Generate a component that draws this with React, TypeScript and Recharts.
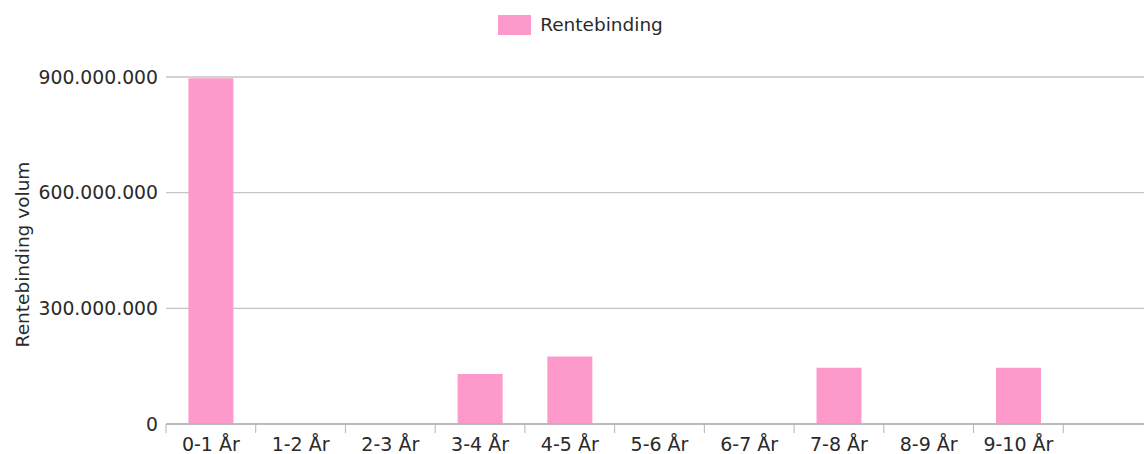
import React from 'react';
import { BarChart, Bar, XAxis, YAxis, CartesianGrid, Legend } from 'recharts';

const categories = ['0-1 År', '1-2 År', '2-3 År', '3-4 År', '4-5 År', '5-6 År', '6-7 År', '7-8 År', '8-9 År', '9-10 År', ''];
const volumes = [897000000, 0, 0, 130000000, 175000000, 0, 0, 146000000, 0, 146000000, 0];
const yTicks = [0, 300000000, 600000000, 900000000];
const seriesName = 'Rentebinding';
const yLabel = 'Rentebinding volum';

const data = categories.map((c, i) => ({ name: c, value: volumes[i] }));

const FONT = '"DejaVu Sans", sans-serif';
const PINK = '#fd99cb';
const TEXT = '#2a2a2a';
const AXIS = '#b4b4b4';

const fmt = (v: number) => String(Math.round(v)).replace(/\B(?=(\d{3})+(?!\d))/g, '.');

const XTick = (props: any) => {
  const { x, y, payload } = props;
  const off = payload && payload.offset ? payload.offset : 0;
  return (
    <g>
      <line x1={x - off} x2={x - off} y1={y} y2={y + 9} stroke={AXIS} strokeWidth={1} />
      <text x={x} y={y + 27} textAnchor="middle" fontSize={19} fontFamily={FONT} fill={TEXT}>
        {payload.value}
      </text>
    </g>
  );
};

const LegendContent = () => (
  <div style={{ height: 77, display: 'flex', justifyContent: 'center', alignItems: 'flex-start', paddingTop: 14, boxSizing: 'border-box' }}>
    <div style={{ display: 'flex', alignItems: 'center', marginLeft: 8 }}>
      <div style={{ width: 33, height: 20, background: PINK, marginRight: 9 }} />
      <span style={{ fontFamily: FONT, fontSize: 18.5, color: TEXT }}>{seriesName}</span>
    </div>
  </div>
);

export default function App() {
  return (
    <div style={{ position: 'absolute', left: 0, top: 0, width: 1160, height: 454, background: '#fff' }}>
      <BarChart width={1160} height={454} data={data} margin={{ top: 0, right: 7, bottom: 0, left: 0 }} barCategoryGap="25%">
        <Legend verticalAlign="top" content={<LegendContent />} wrapperStyle={{ top: 0 }} />
        <CartesianGrid horizontal={true} vertical={false} stroke="#c4c4c4" strokeWidth={1.3} />
        <XAxis
          dataKey="name"
          height={30}
          axisLine={{ stroke: AXIS, strokeWidth: 1.3 }}
          tickLine={false}
          tickSize={0}
          tickMargin={0}
          tick={<XTick />}
          interval={0}
        />
        <YAxis
          width={166}
          domain={[0, 900000000]}
          ticks={yTicks}
          tickFormatter={fmt}
          axisLine={false}
          tickLine={false}
          tickMargin={2}
          tick={{ fontSize: 18.8, fontFamily: FONT, fill: TEXT }}
          label={{ value: yLabel, angle: -90, position: 'insideLeft', offset: 22, dy: 4, style: { textAnchor: 'middle', fontSize: 18.5, fontFamily: FONT, fill: TEXT } }}
        />
        <Bar dataKey="value" name={seriesName} fill={PINK} isAnimationActive={false} />
      </BarChart>
    </div>
  );
}
